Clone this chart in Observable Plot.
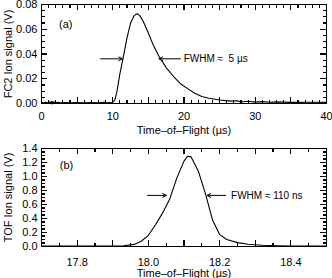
<!DOCTYPE html>
<html><head><meta charset="utf-8">
<script src="https://cdn.jsdelivr.net/npm/d3@7"></script>
<script src="https://cdn.jsdelivr.net/npm/@observablehq/plot@0.6"></script>
<style>body{margin:0;background:#fff}#c{width:332px}#c svg{display:block}</style></head>
<body><div id="c"></div>
<script>
// Panel (a): FC2 ion signal vs time-of-flight (µs)
const tA = [0,0.3,0.6,0.9,1.1,1.3,1.4,1.5,1.6,1.7,1.8,2.0,2.3,2.7,3.2,4,5,6,7,8,8.8,9.2,9.6,10,10.3,10.6,11,11.5,12,12.5,13,13.4,13.8,14.3,15,15.7,16.5,17.5,18.5,19.5,20.5,21.5,22.5,23.5,25,26.5,27.5,28,29,30,31,32,33,35,38,40];
const vA = [0.0008,0.0006,0.0010,0.0005,0.0014,0.0002,0.0018,-0.0004,0.0015,0.0003,0.0012,0.0006,0.0009,0.0005,0.0008,0.0006,0.0007,0.0006,0.0007,0.0006,0.0009,0.0006,0.0008,0.0010,0.003,0.010,0.024,0.038,0.053,0.065,0.071,0.0725,0.071,0.066,0.057,0.047,0.038,0.029,0.022,0.016,0.012,0.0083,0.0056,0.0042,0.0028,0.0019,0.0022,0.0012,0.0018,0.0011,0.0015,0.0010,0.0013,0.0009,0.0010,0.0009];
const xTicksA = [0,10,20,30,40];
const yTicksA = [0,0.02,0.04,0.06,0.08];

// Panel (b): TOF ion signal vs time-of-flight (µs)
const tB = [17.70,17.75,17.80,17.85,17.90,17.93,17.96,17.98,18.00,18.02,18.04,18.06,18.08,18.10,18.11,18.12,18.14,18.16,18.18,18.20,18.22,18.25,18.28,18.32,18.36,18.40,18.45,18.50];
const vB = [0.005,0.005,0.005,0.005,0.006,0.010,0.030,0.075,0.16,0.31,0.48,0.68,0.98,1.22,1.29,1.28,1.08,0.76,0.38,0.17,0.10,0.055,0.032,0.018,0.011,0.008,0.006,0.005];
const xTicksB = [17.8,18.0,18.2,18.4];
const yTicksB = [0,0.2,0.4,0.6,0.8,1.0,1.2,1.4];

const font = "'Liberation Sans', Arial, Helvetica, sans-serif";

function panel({t, v, xDomain, yDomain, xTicks, yTicks, xMajor, xMinor, yMajor, yMinor, xFmt, yFmt,
  height, marginTop, marginBottom, labelDy, titleDy, ylabel, tag, tagXY, arrows, fwhm}) {
  const W = 332, ML = 41, MR = 6;
  const pw = W - ML - MR, ph = height - marginTop - marginBottom;
  const [x0, x1] = xDomain, [y0, y1] = yDomain;
  const ky = (y1 - y0) / ph, kx = (x1 - x0) / pw; // data units per pixel
  const data = t.map((d, i) => ({t: d, v: v[i]}));
  const tk = {stroke: "black", strokeWidth: 1.2, shapeRendering: "crispEdges"};
  const ticks = [];
  for (const [arr, len] of [[xMajor, 6], [xMinor, 3.5]]) {
    ticks.push(Plot.ruleX(arr, {x: d => d, y1: y0, y2: y0 + len * ky, ...tk}));
    ticks.push(Plot.ruleX(arr, {x: d => d, y1: y1, y2: y1 - len * ky, ...tk}));
  }
  for (const [arr, len] of [[yMajor, 6], [yMinor, 3.5]]) {
    ticks.push(Plot.ruleY(arr, {y: d => d, x1: x0, x2: x0 + len * kx, ...tk}));
    ticks.push(Plot.ruleY(arr, {y: d => d, x1: x1, x2: x1 - len * kx, ...tk}));
  }
  return Plot.plot({
    width: W, height, marginLeft: ML, marginRight: MR, marginTop, marginBottom,
    style: {fontFamily: font, fontSize: "11px", color: "black", background: "white"},
    x: {domain: xDomain, label: null, axis: null},
    y: {domain: yDomain, label: null, axis: null},
    marks: [
      Plot.text(xTicks, {x: d => d, frameAnchor: "bottom", dy: labelDy, lineAnchor: "middle", text: d => xFmt(d), fontSize: 11}),
      Plot.text(yTicks, {y: d => d, frameAnchor: "left", dx: -4, textAnchor: "end", lineAnchor: "middle", text: d => yFmt(d), fontSize: 11}),
      Plot.line(data, {x: "t", y: "v", stroke: "black", strokeWidth: 1.1}),
      Plot.arrow(arrows, {x1: "x1", y1: "y", x2: "x2", y2: "y", stroke: "black", strokeWidth: 1, headLength: 6, headAngle: 55}),
      Plot.text([fwhm], {x: d => d.x, y: d => d.y, text: d => d.text, textAnchor: "start", lineAnchor: "middle", fontSize: 10}),
      Plot.text([tag], {x: tagXY[0], y: tagXY[1], text: d => d, fontSize: 11}),
      Plot.text([ylabel], {frameAnchor: "left", rotate: -90, dx: -33, textAnchor: "middle", lineAnchor: "middle", text: d => d, fontSize: 11}),
      Plot.text(["Time\u2013of\u2013Flight (\u00b5s)"], {frameAnchor: "bottom", dy: titleDy, lineAnchor: "middle", text: d => d, fontSize: 11}),
      Plot.frame({stroke: "black", strokeWidth: 1, shapeRendering: "crispEdges"}),
      ...ticks
    ]
  });
}

const c = document.getElementById("c");
c.append(panel({
  t: tA, v: vA, xDomain: [0, 40], yDomain: [0, 0.08],
  xTicks: xTicksA, yTicks: yTicksA,
  xMajor: d3.range(0, 41, 5), xMinor: d3.range(0, 41, 1),
  yMajor: yTicksA, yMinor: d3.range(0, 0.0801, 0.005),
  xFmt: d3.format("d"), yFmt: d3.format(".2f"),
  height: 140, marginTop: 4, marginBottom: 37, labelDy: 13, titleDy: 27,
  ylabel: "FC2 Ion signal (V)", tag: "(a)", tagXY: [3.4, 0.064],
  arrows: [{x1: 8.3, x2: 11.35, y: 0.0361}, {x1: 19.5, x2: 16.5, y: 0.0361}],
  fwhm: {x: 19.95, y: 0.0361, text: "FWHM \u2248  5 \u00b5s"}
}));
c.append(panel({
  t: tB, v: vB, xDomain: [17.7, 18.5], yDomain: [0, 1.4],
  xTicks: xTicksB, yTicks: yTicksB,
  xMajor: d3.range(17.7, 18.501, 0.1), xMinor: d3.range(17.7, 18.501, 0.05),
  yMajor: yTicksB, yMinor: d3.range(0, 1.401, 0.05),
  xFmt: d3.format(".1f"), yFmt: d3.format(".1f"),
  height: 138, marginTop: 8, marginBottom: 32, labelDy: 16, titleDy: 27,
  ylabel: "TOF Ion signal (V)", tag: "(b)", tagXY: [17.77, 1.16],
  arrows: [{x1: 17.998, x2: 18.05, y: 0.73}, {x1: 18.217, x2: 18.165, y: 0.73}],
  fwhm: {x: 18.232, y: 0.73, text: "FWHM \u2248 110 ns"}
}));
</script></body></html>
